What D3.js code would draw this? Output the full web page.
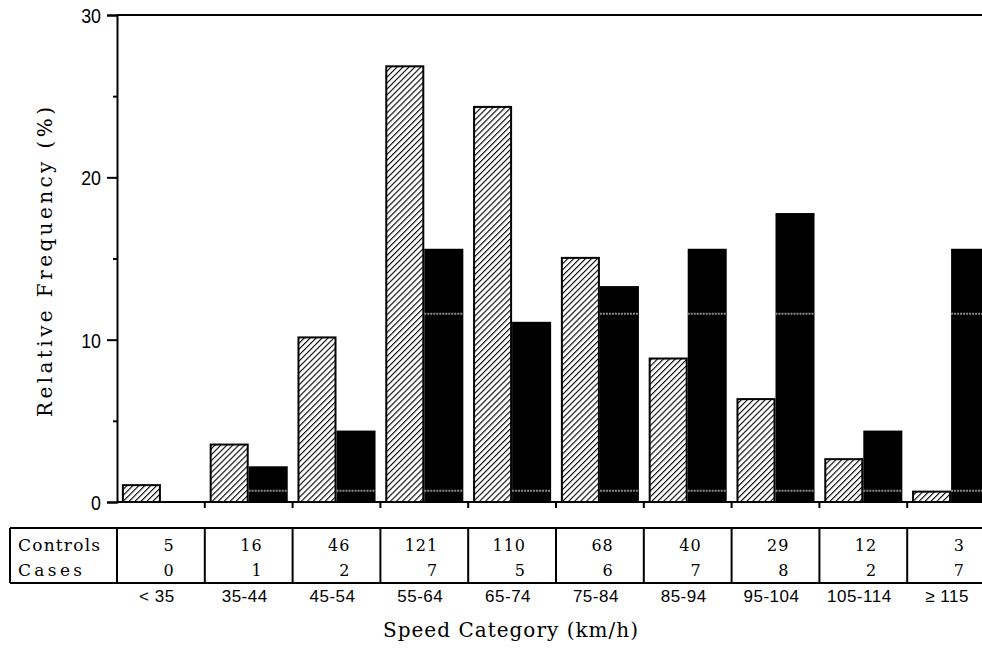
<!DOCTYPE html>
<html>
    <head>
        <title>Speed Category</title>
        <script src="https://d3js.org/d3.v7.min.js"></script>
        <style>
            body { margin: 0; background: #fff; }
            text { fill: #000; }
        </style>
    </head>
    <body>
        <script type="text/javascript">
        // data
        const categories = ["< 35", "35-44", "45-54", "55-64", "65-74", "75-84", "85-94", "95-104", "105-114", "\u2265 115"];
        const controlsPct = [1.1, 3.6, 10.2, 26.9, 24.4, 15.1, 8.9, 6.4, 2.7, 0.7];
        const casesPct = [0, 2.2, 4.4, 15.6, 11.1, 13.3, 15.6, 17.8, 4.4, 15.6];
        const controlsN = [5, 16, 46, 121, 110, 68, 40, 29, 12, 3];
        const casesN = [0, 1, 2, 7, 5, 6, 7, 8, 2, 7];
        const yTicks = [0, 10, 20, 30];
        const yMinor = [5, 15, 25];

        const w = 982;
        const h = 652;
        const left = 117;
        const step = 87.8;

        const svg = d3.select("body").append("svg").attr("width", w).attr("height", h);

        // hatch pattern for controls
        const pat = svg.append("defs").append("pattern")
            .attr("id", "hatch").attr("patternUnits", "userSpaceOnUse")
            .attr("width", 4.2).attr("height", 4.2)
            .attr("patternTransform", "rotate(45)");
        pat.append("rect").attr("width", 4.2).attr("height", 4.2).attr("fill", "#fff");
        pat.append("line").attr("x1", 0).attr("y1", 0).attr("x2", 0).attr("y2", 4.2)
            .attr("stroke", "#000").attr("stroke-width", 2.2);

        const xScale = d3.scaleBand()
            .domain(categories)
            .range([left, left + step * categories.length]);

        const xSub = d3.scaleBand()
            .domain(["controls", "cases"])
            .range([0, xScale.bandwidth()])
            .paddingInner(0).paddingOuter(0.125);

        const yScale = d3.scaleLinear()
            .domain([0, 30])
            .range([502, 15]);

        const caseRows = categories.map((c, i) => ({ cat: c, v: casesPct[i] }));

        // cases bars (black)
        svg.selectAll("rect.cases").data(caseRows).enter().append("rect")
            .attr("class", "cases")
            .attr("x", (d) => xScale(d.cat) + xSub("cases"))
            .attr("y", (d) => yScale(d.v))
            .attr("width", xSub.bandwidth())
            .attr("height", (d) => yScale(0) - yScale(d.v))
            .attr("fill", "#000");

        // controls bars (hatched)
        svg.selectAll("rect.controls").data(controlsPct).enter().append("rect")
            .attr("class", "controls")
            .attr("x", (d, i) => xScale(categories[i]) + xSub("controls") + 1)
            .attr("y", (d) => yScale(d) + 1)
            .attr("width", xSub.bandwidth() - 2)
            .attr("height", (d) => yScale(0) - yScale(d) - 1)
            .attr("fill", "url(#hatch)")
            .attr("stroke", "#000").attr("stroke-width", 2);

        // faint scan lines across the black bars
        [11.6, 0.7].forEach((v) => {
            svg.selectAll(null).data(caseRows.filter((d) => d.v > v + 0.3)).enter().append("line")
                .attr("x1", (d) => xScale(d.cat) + xSub("cases"))
                .attr("x2", (d) => xScale(d.cat) + xSub("cases") + xSub.bandwidth())
                .attr("y1", yScale(v)).attr("y2", yScale(v))
                .attr("stroke", "#8a8a8a").attr("stroke-width", 2).attr("stroke-dasharray", "2,1");
        });

        // y axis
        const yAxis = d3.axisLeft(yScale).tickValues(yTicks).tickSize(10).tickPadding(4);
        const gy = svg.append("g")
            .attr("transform", "translate(" + left + ",0)")
            .call(yAxis);
        gy.select(".domain").attr("stroke-width", 2);
        gy.selectAll(".tick line").attr("stroke-width", 2);
        gy.selectAll("text")
            .attr("font-family", "Liberation Sans, Arial, sans-serif")
            .attr("font-size", 21)
            .attr("transform", "scale(0.85,1)");
        gy.selectAll(".tick text").attr("x", -16 / 0.85).attr("dy", "0.36em");

        svg.append("g").attr("transform", "translate(" + left + ",0)")
            .call(d3.axisLeft(yScale).tickValues(yMinor).tickSize(4).tickFormat(""))
            .call((g) => g.select(".domain").remove())
            .selectAll("line").attr("stroke-width", 2);

        // frame top
        svg.append("line")
            .attr("x1", left).attr("x2", w)
            .attr("y1", yScale(30)).attr("y2", yScale(30))
            .attr("stroke", "#000").attr("stroke-width", 2);

        // x baseline with boundary ticks
        svg.append("line")
            .attr("x1", left).attr("x2", w)
            .attr("y1", yScale(0)).attr("y2", yScale(0))
            .attr("stroke", "#000").attr("stroke-width", 2);
        svg.selectAll("line.xt").data(categories.slice(1)).enter().append("line")
            .attr("class", "xt")
            .attr("x1", (d) => xScale(d)).attr("x2", (d) => xScale(d))
            .attr("y1", yScale(0)).attr("y2", yScale(0) + 6)
            .attr("stroke", "#000").attr("stroke-width", 2);

        const serif = "DejaVu Serif, Liberation Serif, serif";

        // y title
        svg.append("text")
            .attr("transform", "translate(52,262) rotate(-90)")
            .attr("text-anchor", "middle")
            .attr("font-family", serif)
            .attr("font-size", 20)
            .attr("textLength", 310).attr("lengthAdjust", "spacing")
            .text("Relative Frequency (%)");

        // table under the chart
        const tTop = 528;
        const tBot = 583;
        svg.append("line").attr("x1", 10).attr("x2", w).attr("y1", tTop).attr("y2", tTop)
            .attr("stroke", "#000").attr("stroke-width", 2);
        svg.append("line").attr("x1", 10).attr("x2", w).attr("y1", tBot).attr("y2", tBot)
            .attr("stroke", "#000").attr("stroke-width", 2);
        svg.append("line").attr("x1", 10).attr("x2", 10).attr("y1", tTop).attr("y2", tBot)
            .attr("stroke", "#000").attr("stroke-width", 2);
        svg.selectAll("line.tdiv").data(categories).enter().append("line")
            .attr("class", "tdiv")
            .attr("x1", (d) => xScale(d)).attr("x2", (d) => xScale(d))
            .attr("y1", tTop).attr("y2", tBot)
            .attr("stroke", "#000").attr("stroke-width", 2);

        svg.append("text").attr("x", 18).attr("y", 551)
            .attr("font-family", serif).attr("font-size", 17)
            .attr("textLength", 82).attr("lengthAdjust", "spacing")
            .text("Controls");
        svg.append("text").attr("x", 18).attr("y", 576)
            .attr("font-family", serif).attr("font-size", 17)
            .attr("textLength", 64).attr("lengthAdjust", "spacing")
            .text("Cases");

        svg.selectAll("text.cn").data(controlsN).enter().append("text")
            .attr("class", "cn")
            .attr("x", (d, i) => xScale(categories[i]) + step - 30)
            .attr("y", 551)
            .attr("text-anchor", "end")
            .attr("font-family", serif).attr("font-size", 16)
            .attr("letter-spacing", 1)
            .text((d) => d);
        svg.selectAll("text.kn").data(casesN).enter().append("text")
            .attr("class", "kn")
            .attr("x", (d, i) => xScale(categories[i]) + step - 30)
            .attr("y", 576)
            .attr("text-anchor", "end")
            .attr("font-family", serif).attr("font-size", 16)
            .attr("letter-spacing", 1)
            .text((d) => d);

        // category labels
        svg.selectAll("text.cat").data(categories).enter().append("text")
            .attr("class", "cat")
            .attr("x", (d) => xScale(d) + xScale.bandwidth() / 2 - 4)
            .attr("y", 602)
            .attr("text-anchor", "middle")
            .attr("font-family", "Liberation Sans, Arial, sans-serif")
            .attr("font-size", 17)
            .attr("letter-spacing", 0.5)
            .text((d) => d);

        // x title
        svg.append("text")
            .attr("x", 383).attr("y", 637)
            .attr("font-family", serif).attr("font-size", 20)
            .attr("textLength", 255).attr("lengthAdjust", "spacing")
            .text("Speed Category (km/h)");
        </script>
    </body>
</html>
